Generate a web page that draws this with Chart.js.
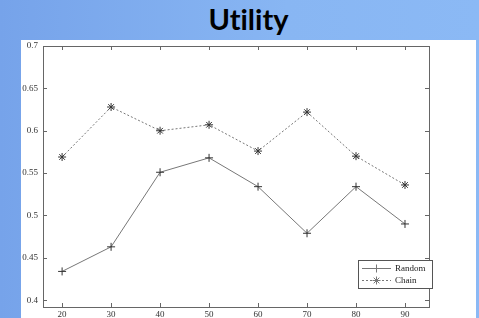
<!DOCTYPE html>
<html>
<head>
<meta charset="utf-8">
<script src="https://cdn.jsdelivr.net/npm/chart.js@4/dist/chart.umd.min.js"></script>
<style>
  html, body { margin: 0; padding: 0; }
  body {
    width: 479px; height: 318px; overflow: hidden; position: relative;
    background: linear-gradient(to right, #76a3ea, #88b6f3 60%, #8bb9f5);
  }
  .panel { position: absolute; left: 21px; top: 40px; width: 455px; height: 278px; background: #fff; }
  .title {
    position: absolute; left: 0; top: 2px; width: 479px; text-align: center;
    font-family: Lato, "Open Sans", "Liberation Sans", sans-serif; font-weight: bold;
    font-size: 29px; line-height: 34px; color: #000; padding-left: 18px; box-sizing: border-box;
    font-variant-ligatures: none; font-feature-settings: "liga" 0, "clig" 0;
  }
  #wrap { position: absolute; left: 0; top: 0; width: 479px; height: 318px; }
</style>
</head>
<body>
<div class="panel"></div>
<div class="title">Utility</div>
<div id="wrap"><canvas id="chart" width="479" height="318"></canvas></div>
<script>
// Data
const xValues = [20, 30, 40, 50, 60, 70, 80, 90];
const randomValues = [0.434, 0.463, 0.551, 0.568, 0.534, 0.479, 0.534, 0.490];
const chainValues = [0.569, 0.628, 0.600, 0.607, 0.576, 0.622, 0.570, 0.536];
const xTicks = [20, 30, 40, 50, 60, 70, 80, 90];
const yTicks = [0.4, 0.45, 0.5, 0.55, 0.6, 0.65, 0.7];
const seriesNames = ['Random', 'Chain'];

const axisColor = '#666';
const lineColor = '#777';
const labelFont = { family: '"Liberation Serif", "DejaVu Serif", serif', size: 9 };

// MATLAB style box with inward ticks on all four sides, plus the legend
const boxPlugin = {
    id: 'matlabBox',
    afterDraw(chart) {
        const ctx = chart.ctx;
        const a = chart.chartArea;
        const xs = chart.scales.x;
        const ys = chart.scales.y;
        ctx.save();
        ctx.strokeStyle = axisColor;
        ctx.lineWidth = 1;
        ctx.strokeRect(Math.round(a.left) + 0.5, Math.round(a.top) + 0.5,
            Math.round(a.right - a.left), Math.round(a.bottom - a.top));
        ctx.beginPath();
        xTicks.forEach(v => {
            const px = Math.round(xs.getPixelForValue(v)) + 0.5;
            ctx.moveTo(px, a.bottom); ctx.lineTo(px, a.bottom - 4);
            ctx.moveTo(px, a.top); ctx.lineTo(px, a.top + 4);
        });
        yTicks.forEach(v => {
            const py = Math.round(ys.getPixelForValue(v)) + 0.5;
            ctx.moveTo(a.left, py); ctx.lineTo(a.left + 4, py);
            ctx.moveTo(a.right, py); ctx.lineTo(a.right - 4, py);
        });
        ctx.stroke();

        // legend
        const lx = a.right - 71, ly = a.bottom - 47, lw = 74, lh = 28;
        ctx.fillStyle = '#fff';
        ctx.fillRect(lx, ly, lw, lh);
        ctx.strokeStyle = '#555';
        ctx.strokeRect(lx + 0.5, ly + 0.5, lw, lh);
        ctx.font = '9px "Liberation Serif", serif';
        ctx.fillStyle = '#222';
        ctx.textBaseline = 'middle';
        chart.data.datasets.forEach((ds, i) => {
            const y = ly + 8 + i * 12;
            ctx.strokeStyle = ds.borderColor;
            ctx.setLineDash(ds.borderDash || []);
            ctx.beginPath();
            ctx.moveTo(lx + 4, y + 0.5); ctx.lineTo(lx + 33, y + 0.5);
            ctx.stroke();
            ctx.setLineDash([]);
            Chart.helpers.drawPoint(ctx, {
                pointStyle: ds.pointStyle, radius: 4, borderWidth: 1
            }, lx + 18.5, y + 0.5);
            ctx.fillText(seriesNames[i], lx + 37, y + 1);
        });
        ctx.restore();
    }
};

new Chart(document.getElementById('chart'), {
    type: 'line',
    data: {
        datasets: [
            {
                label: seriesNames[0],
                data: xValues.map((x, i) => ({ x: x, y: randomValues[i] })),
                borderColor: lineColor,
                borderWidth: 1,
                pointStyle: 'cross',
                pointRadius: 4,
                pointBorderColor: '#333',
                pointBorderWidth: 1,
                fill: false,
                tension: 0
            },
            {
                label: seriesNames[1],
                data: xValues.map((x, i) => ({ x: x, y: chainValues[i] })),
                borderColor: lineColor,
                borderWidth: 1,
                borderDash: [2, 2],
                pointStyle: 'star',
                pointRadius: 4,
                pointBorderColor: '#333',
                pointBorderWidth: 1,
                fill: false,
                tension: 0
            }
        ]
    },
    options: {
        responsive: false,
        animation: false,
        layout: { padding: { left: 0, right: 50, top: 46, bottom: 0 } },
        plugins: { legend: { display: false }, title: { display: false }, tooltip: { enabled: false } },
        scales: {
            x: {
                type: 'linear',
                min: 16.1,
                max: 94.9,
                afterBuildTicks: s => { s.ticks = xTicks.map(v => ({ value: v })); },
                afterFit: s => { s.height = 11; },
                grid: { display: false, drawTicks: false },
                border: { display: false },
                ticks: { font: labelFont, color: '#333', padding: 2, maxRotation: 0 }
            },
            y: {
                min: 0.392,
                max: 0.7,
                afterBuildTicks: s => { s.ticks = yTicks.map(v => ({ value: v })); },
                afterFit: s => { s.width = 43; },
                grid: { display: false, drawTicks: false },
                border: { display: false },
                ticks: {
                    font: labelFont, color: '#333', padding: 5,
                    callback: v => String(Math.round(v * 100) / 100)
                }
            }
        }
    },
    plugins: [boxPlugin]
});
</script>
</body>
</html>
